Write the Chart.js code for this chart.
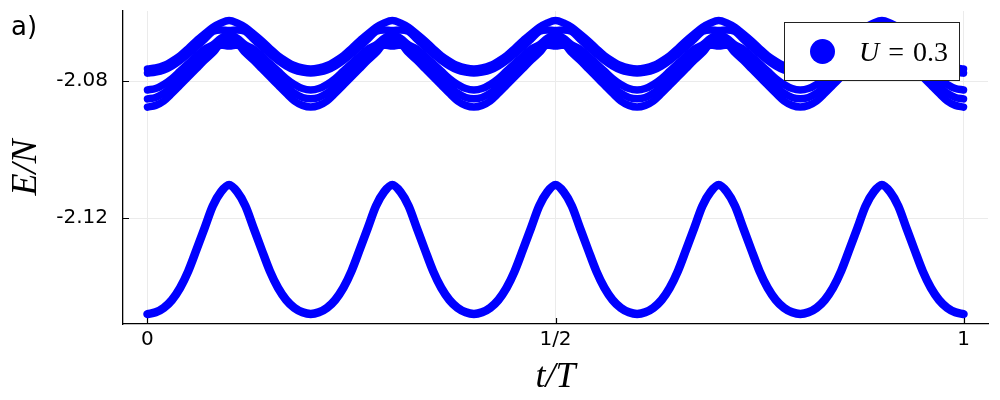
<!DOCTYPE html>
<html>
<head>
<meta charset="utf-8">
<script src="https://cdn.jsdelivr.net/npm/chart.js@4/dist/chart.umd.min.js"></script>
<style>
  html, body { margin: 0; padding: 0; background: #fff; }
</style>
</head>
<body>
<canvas id="bandChart" width="1000" height="400"></canvas>
<script>
// time axis (t/T), sampled every 0.01
const tT = [0,0.01,0.02,0.03,0.04,0.05,0.06,0.07,0.08,0.09,0.1,0.11,0.12,0.13,0.14,0.15,0.16,0.17,0.18,0.19,
  0.2,0.21,0.22,0.23,0.24,0.25,0.26,0.27,0.28,0.29,0.3,0.31,0.32,0.33,0.34,0.35,0.36,0.37,0.38,0.39,
  0.4,0.41,0.42,0.43,0.44,0.45,0.46,0.47,0.48,0.49,0.5,0.51,0.52,0.53,0.54,0.55,0.56,0.57,0.58,0.59,
  0.6,0.61,0.62,0.63,0.64,0.65,0.66,0.67,0.68,0.69,0.7,0.71,0.72,0.73,0.74,0.75,0.76,0.77,0.78,0.79,
  0.8,0.81,0.82,0.83,0.84,0.85,0.86,0.87,0.88,0.89,0.9,0.91,0.92,0.93,0.94,0.95,0.96,0.97,0.98,0.99,1];

// E/N, one list per level
const groundLevel = [
  -2.1479,-2.1474,-2.1461,-2.1438,-2.1403,-2.1354,-2.1292,-2.1228,-2.1164,-2.1123,-2.1103,-2.1123,-2.1164,-2.1228,-2.1292,-2.1354,-2.1403,-2.1438,-2.1461,-2.1474,
  -2.1479,-2.1474,-2.1461,-2.1438,-2.1403,-2.1354,-2.1292,-2.1228,-2.1164,-2.1123,-2.1103,-2.1123,-2.1164,-2.1228,-2.1292,-2.1354,-2.1403,-2.1438,-2.1461,-2.1474,
  -2.1479,-2.1474,-2.1461,-2.1438,-2.1403,-2.1354,-2.1292,-2.1228,-2.1164,-2.1123,-2.1103,-2.1123,-2.1164,-2.1228,-2.1292,-2.1354,-2.1403,-2.1438,-2.1461,-2.1474,
  -2.1479,-2.1474,-2.1461,-2.1438,-2.1403,-2.1354,-2.1292,-2.1228,-2.1164,-2.1123,-2.1103,-2.1123,-2.1164,-2.1228,-2.1292,-2.1354,-2.1403,-2.1438,-2.1461,-2.1474,
  -2.1479,-2.1474,-2.1461,-2.1438,-2.1403,-2.1354,-2.1292,-2.1228,-2.1164,-2.1123,-2.1103,-2.1123,-2.1164,-2.1228,-2.1292,-2.1354,-2.1403,-2.1438,-2.1461,-2.1474,
  -2.1479];
const levelA = [
  -2.0765,-2.0762,-2.0755,-2.0742,-2.0726,-2.0705,-2.0683,-2.0663,-2.0644,-2.0631,-2.0624,-2.0631,-2.0644,-2.0663,-2.0683,-2.0705,-2.0726,-2.0742,-2.0755,-2.0762,
  -2.0765,-2.0762,-2.0755,-2.0742,-2.0726,-2.0705,-2.0683,-2.0663,-2.0644,-2.0631,-2.0624,-2.0631,-2.0644,-2.0663,-2.0683,-2.0705,-2.0726,-2.0742,-2.0755,-2.0762,
  -2.0765,-2.0762,-2.0755,-2.0742,-2.0726,-2.0705,-2.0683,-2.0663,-2.0644,-2.0631,-2.0624,-2.0631,-2.0644,-2.0663,-2.0683,-2.0705,-2.0726,-2.0742,-2.0755,-2.0762,
  -2.0765,-2.0762,-2.0755,-2.0742,-2.0726,-2.0705,-2.0683,-2.0663,-2.0644,-2.0631,-2.0624,-2.0631,-2.0644,-2.0663,-2.0683,-2.0705,-2.0726,-2.0742,-2.0755,-2.0762,
  -2.0765,-2.0762,-2.0755,-2.0742,-2.0726,-2.0705,-2.0683,-2.0663,-2.0644,-2.0631,-2.0624,-2.0631,-2.0644,-2.0663,-2.0683,-2.0705,-2.0726,-2.0742,-2.0755,-2.0762,
  -2.0765];
const levelB = [
  -2.0777,-2.0774,-2.0768,-2.0756,-2.0740,-2.0721,-2.0700,-2.0678,-2.0656,-2.0651,-2.0653,-2.0651,-2.0656,-2.0678,-2.0700,-2.0721,-2.0740,-2.0756,-2.0768,-2.0774,
  -2.0777,-2.0774,-2.0768,-2.0756,-2.0740,-2.0721,-2.0700,-2.0678,-2.0656,-2.0651,-2.0653,-2.0651,-2.0656,-2.0678,-2.0700,-2.0721,-2.0740,-2.0756,-2.0768,-2.0774,
  -2.0777,-2.0774,-2.0768,-2.0756,-2.0740,-2.0721,-2.0700,-2.0678,-2.0656,-2.0651,-2.0653,-2.0651,-2.0656,-2.0678,-2.0700,-2.0721,-2.0740,-2.0756,-2.0768,-2.0774,
  -2.0777,-2.0774,-2.0768,-2.0756,-2.0740,-2.0721,-2.0700,-2.0678,-2.0656,-2.0651,-2.0653,-2.0651,-2.0656,-2.0678,-2.0700,-2.0721,-2.0740,-2.0756,-2.0768,-2.0774,
  -2.0777,-2.0774,-2.0768,-2.0756,-2.0740,-2.0721,-2.0700,-2.0678,-2.0656,-2.0651,-2.0653,-2.0651,-2.0656,-2.0678,-2.0700,-2.0721,-2.0740,-2.0756,-2.0768,-2.0774,
  -2.0777];
const levelC = [
  -2.0826,-2.0822,-2.0810,-2.0793,-2.0771,-2.0749,-2.0727,-2.0707,-2.0695,-2.0675,-2.0666,-2.0675,-2.0695,-2.0707,-2.0727,-2.0749,-2.0771,-2.0793,-2.0810,-2.0822,
  -2.0826,-2.0822,-2.0810,-2.0793,-2.0771,-2.0749,-2.0727,-2.0707,-2.0695,-2.0675,-2.0666,-2.0675,-2.0695,-2.0707,-2.0727,-2.0749,-2.0771,-2.0793,-2.0810,-2.0822,
  -2.0826,-2.0822,-2.0810,-2.0793,-2.0771,-2.0749,-2.0727,-2.0707,-2.0695,-2.0675,-2.0666,-2.0675,-2.0695,-2.0707,-2.0727,-2.0749,-2.0771,-2.0793,-2.0810,-2.0822,
  -2.0826,-2.0822,-2.0810,-2.0793,-2.0771,-2.0749,-2.0727,-2.0707,-2.0695,-2.0675,-2.0666,-2.0675,-2.0695,-2.0707,-2.0727,-2.0749,-2.0771,-2.0793,-2.0810,-2.0822,
  -2.0826,-2.0822,-2.0810,-2.0793,-2.0771,-2.0749,-2.0727,-2.0707,-2.0695,-2.0675,-2.0666,-2.0675,-2.0695,-2.0707,-2.0727,-2.0749,-2.0771,-2.0793,-2.0810,-2.0822,
  -2.0826];
const levelD = [
  -2.0852,-2.0848,-2.0835,-2.0815,-2.0791,-2.0768,-2.0745,-2.0724,-2.0707,-2.0688,-2.0679,-2.0688,-2.0707,-2.0724,-2.0745,-2.0768,-2.0791,-2.0815,-2.0835,-2.0848,
  -2.0852,-2.0848,-2.0835,-2.0815,-2.0791,-2.0768,-2.0745,-2.0724,-2.0707,-2.0688,-2.0679,-2.0688,-2.0707,-2.0724,-2.0745,-2.0768,-2.0791,-2.0815,-2.0835,-2.0848,
  -2.0852,-2.0848,-2.0835,-2.0815,-2.0791,-2.0768,-2.0745,-2.0724,-2.0707,-2.0688,-2.0679,-2.0688,-2.0707,-2.0724,-2.0745,-2.0768,-2.0791,-2.0815,-2.0835,-2.0848,
  -2.0852,-2.0848,-2.0835,-2.0815,-2.0791,-2.0768,-2.0745,-2.0724,-2.0707,-2.0688,-2.0679,-2.0688,-2.0707,-2.0724,-2.0745,-2.0768,-2.0791,-2.0815,-2.0835,-2.0848,
  -2.0852,-2.0848,-2.0835,-2.0815,-2.0791,-2.0768,-2.0745,-2.0724,-2.0707,-2.0688,-2.0679,-2.0688,-2.0707,-2.0724,-2.0745,-2.0768,-2.0791,-2.0815,-2.0835,-2.0848,
  -2.0852];
const levelE = [
  -2.0876,-2.0871,-2.0858,-2.0836,-2.0812,-2.0788,-2.0764,-2.0740,-2.0718,-2.0695,-2.0698,-2.0695,-2.0718,-2.0740,-2.0764,-2.0788,-2.0812,-2.0836,-2.0858,-2.0871,
  -2.0876,-2.0871,-2.0858,-2.0836,-2.0812,-2.0788,-2.0764,-2.0740,-2.0718,-2.0695,-2.0698,-2.0695,-2.0718,-2.0740,-2.0764,-2.0788,-2.0812,-2.0836,-2.0858,-2.0871,
  -2.0876,-2.0871,-2.0858,-2.0836,-2.0812,-2.0788,-2.0764,-2.0740,-2.0718,-2.0695,-2.0698,-2.0695,-2.0718,-2.0740,-2.0764,-2.0788,-2.0812,-2.0836,-2.0858,-2.0871,
  -2.0876,-2.0871,-2.0858,-2.0836,-2.0812,-2.0788,-2.0764,-2.0740,-2.0718,-2.0695,-2.0698,-2.0695,-2.0718,-2.0740,-2.0764,-2.0788,-2.0812,-2.0836,-2.0858,-2.0871,
  -2.0876,-2.0871,-2.0858,-2.0836,-2.0812,-2.0788,-2.0764,-2.0740,-2.0718,-2.0695,-2.0698,-2.0695,-2.0718,-2.0740,-2.0764,-2.0788,-2.0812,-2.0836,-2.0858,-2.0871,
  -2.0876];

const xTickValues = [0, 0.5, 1];
const xTickLabels = ['0', '1/2', '1'];
const yTickValues = [-2.08, -2.12];
const yTickLabels = ['-2.08', '-2.12'];
const legendLabel = 'U = 0.3';

const allLevels = [groundLevel, levelA, levelB, levelC, levelD, levelE];

function makeSet(vals, idx) {
    return {
        data: tT.map((t, i) => ({x: t, y: vals[i]})),
        showLine: true,
        borderColor: '#0000ff',
        backgroundColor: '#0000ff',
        borderWidth: idx === 0 ? 8.5 : 7.5,
        borderCapStyle: 'round',
        borderJoinStyle: 'round',
        cubicInterpolationMode: 'monotone',
        pointRadius: 0,
        pointHoverRadius: 0
    };
}

// inward tick marks + "a)" label
const frameExtras = {
    id: 'frameExtras',
    beforeDatasetsDraw(chart) {
        const ctx = chart.ctx;
        const xs = chart.scales.x, ys = chart.scales.y;
        const area = chart.chartArea;
        ctx.save();
        ctx.strokeStyle = '#000';
        ctx.lineWidth = 1.2;
        ctx.beginPath();
        xTickValues.forEach(v => {
            const px = Math.round(xs.getPixelForValue(v)) + 0.5;
            ctx.moveTo(px, area.bottom);
            ctx.lineTo(px, area.bottom - 6);
        });
        yTickValues.forEach(v => {
            const py = Math.round(ys.getPixelForValue(v)) + 0.5;
            ctx.moveTo(area.left, py);
            ctx.lineTo(area.left + 6, py);
        });
        ctx.stroke();
        ctx.restore();
    },
    afterDraw(chart) {
        const ctx = chart.ctx;
        ctx.save();
        ctx.fillStyle = '#000';
        ctx.font = '26px "DejaVu Sans"';
        ctx.textBaseline = 'alphabetic';
        ctx.fillText('a)', 11, 35);
        ctx.restore();
    }
};

// framed legend box drawn over the data, top right
const boxLegend = {
    id: 'boxLegend',
    afterDatasetsDraw(chart) {
        const ctx = chart.ctx;
        ctx.save();
        ctx.fillStyle = '#fff';
        ctx.strokeStyle = '#222';
        ctx.lineWidth = 1;
        ctx.fillRect(784.5, 22.5, 175, 58);
        ctx.strokeRect(784.5, 22.5, 175, 58);
        ctx.fillStyle = '#0000ff';
        ctx.beginPath();
        ctx.arc(822.5, 51.5, 12.5, 0, Math.PI * 2);
        ctx.fill();
        ctx.fillStyle = '#000';
        ctx.textBaseline = 'alphabetic';
        const parts = legendLabel.split(' ');
        ctx.font = 'italic 28px "Liberation Serif"';
        ctx.fillText(parts[0], 859, 61);
        let x = 859 + ctx.measureText(parts[0]).width + 9;
        ctx.font = '28px "Liberation Serif"';
        ctx.fillText(parts[1], x, 61);
        x += ctx.measureText(parts[1]).width + 9;
        ctx.fillText(parts[2], x, 61);
        ctx.restore();
    }
};

const chart = new Chart(document.getElementById('bandChart'), {
    type: 'scatter',
    data: { datasets: allLevels.map(makeSet) },
    options: {
        responsive: false,
        animation: false,
        devicePixelRatio: 1,
        layout: { padding: { top: 11, right: 12, left: 0, bottom: 0 } },
        plugins: {
            legend: { display: false },
            tooltip: { enabled: false }
        },
        scales: {
            x: {
                type: 'linear',
                min: -0.03,
                max: 1.03,
                afterBuildTicks: s => { s.ticks = xTickValues.map(v => ({value: v})); },
                afterFit: s => { s.height = 76; s.paddingLeft = 0; s.paddingRight = 0; },
                ticks: {
                    color: '#000',
                    font: { family: 'DejaVu Sans', size: 20 },
                    padding: 4,
                    maxRotation: 0,
                    callback: v => xTickLabels[xTickValues.indexOf(v)]
                },
                grid: { color: '#ebebeb', lineWidth: 1, drawTicks: false },
                border: { color: '#000', width: 1.3 },
                title: {
                    display: true,
                    text: 't/T',
                    color: '#000',
                    font: { family: 'Liberation Serif', size: 36, style: 'italic' },
                    padding: { top: 0, bottom: 1 }
                }
            },
            y: {
                min: -2.1508,
                max: -2.0596,
                afterBuildTicks: s => { s.ticks = yTickValues.map(v => ({value: v})); },
                afterFit: s => { s.width = 123; s.paddingTop = 0; s.paddingBottom = 0; },
                ticks: {
                    color: '#000',
                    font: { family: 'DejaVu Sans', size: 20 },
                    padding: 15,
                    callback: v => yTickLabels[yTickValues.indexOf(v)]
                },
                grid: { color: '#ebebeb', lineWidth: 1, drawTicks: false },
                border: { color: '#000', width: 1.3 },
                title: {
                    display: true,
                    text: 'E/N',
                    color: '#000',
                    font: { family: 'Liberation Serif', size: 36, style: 'italic' },
                    padding: { top: 5, bottom: 0 }
                }
            }
        }
    },
    plugins: [frameExtras, boxLegend]
});
</script>
</body>
</html>
